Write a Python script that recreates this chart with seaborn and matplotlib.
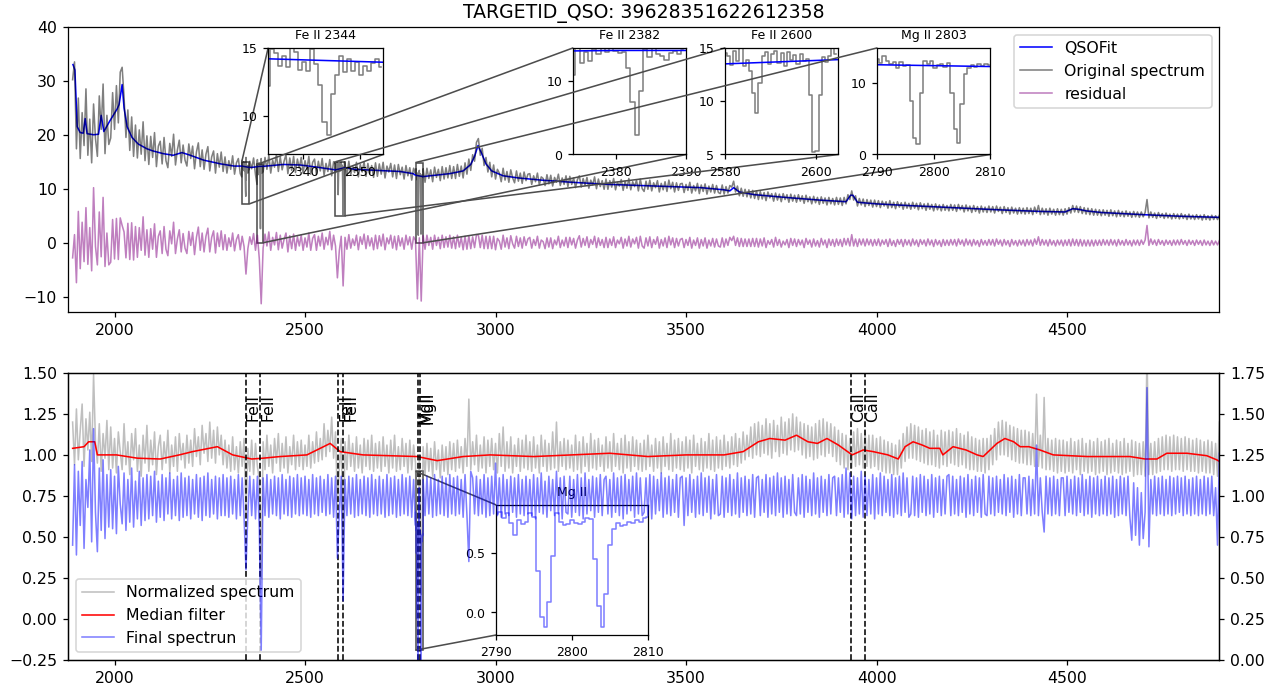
import numpy as np
import pandas as pd
import matplotlib.pyplot as plt
import seaborn as sns
from mpl_toolkits.axes_grid1.inset_locator import mark_inset

targetid = '39628351622612358'

# spectrum sampled every 5 A (one row = 100 A)
wave = np.arange(1890, 4901, 5)

orig_flux = [
    30.2, 33.5, 17.4, 26.8, 15.6, 24.1, 18.0, 28.5, 16.2, 22.9, 14.8, 25.7, 19.3, 16.0, 27.2, 21.0, 29.4, 16.5, 23.6, 18.2,
    19.4, 27.8, 21.0, 29.1, 22.2, 31.6, 32.5, 27.0, 19.5, 24.6, 17.1, 23.3, 16.0, 21.8, 15.7, 20.9, 16.4, 22.4, 15.2, 19.8,
    14.5, 19.7, 15.8, 20.4, 14.1, 17.9, 18.8, 14.6, 19.5, 15.2, 13.9, 18.4, 16.0, 20.1, 14.4, 17.2, 19.0, 14.8, 18.1, 15.3,
    14.2, 18.3, 15.6, 17.9, 13.7, 16.8, 18.5, 14.1, 17.2, 13.6, 16.4, 17.8, 13.3, 15.9, 17.0, 12.9, 16.5, 14.0, 16.8, 13.2,
    15.9, 12.9, 15.2, 13.6, 16.1, 12.7, 14.8, 15.6, 12.8, 15.3, 13.4, 15.8, 12.9, 15.1, 13.7, 15.7, 12.6, 15.4, 13.2, 15.6,
    13.1, 15.8, 13.6, 16.2, 12.9, 15.3, 14.0, 16.4, 13.2, 15.9, 13.5, 15.1, 16.3, 12.8, 15.7, 13.4, 16.0, 13.0, 15.5, 13.8,
    15.8, 12.9, 15.2, 13.5, 16.0, 12.7, 14.9, 15.5, 12.6, 15.1, 13.3, 15.6, 12.5, 14.7, 13.2, 15.4, 12.4, 15.0, 13.0, 14.8,
    13.2, 14.9, 12.8, 14.6, 12.4, 15.1, 12.6, 14.2, 13.0, 14.9, 12.2, 14.5, 13.1, 15.0, 12.3, 14.7, 12.8, 14.3, 12.1, 14.8,
    12.3, 14.6, 12.7, 14.9, 12.0, 14.2, 13.1, 14.7, 12.2, 14.4, 11.9, 14.5, 12.6, 14.0, 11.8, 14.3, 12.4, 13.9, 11.6, 13.8,
    12.9, 11.6, 13.4, 11.5, 13.7, 11.2, 13.8, 11.9, 13.5, 11.3, 14.0, 12.1, 13.6, 11.5, 14.1, 11.8, 13.9, 12.0, 14.3, 11.9,
    14.1, 11.9, 14.5, 12.3, 14.2, 12.0, 14.8, 12.7, 15.5, 13.4, 16.3, 15.1, 18.6, 19.3, 16.2, 17.5, 14.3, 15.8, 13.1, 14.9,
    12.2, 14.4, 11.8, 13.6, 12.9, 11.3, 13.8, 11.6, 13.2, 11.2, 13.5, 12.0, 11.1, 13.3, 11.4, 12.9, 11.0, 13.1, 11.5, 12.7,
    12.8, 10.8, 12.4, 11.3, 12.9, 10.7, 12.2, 11.9, 10.6, 12.6, 10.9, 12.5, 10.5, 12.1, 11.2, 12.7, 10.6, 12.0, 10.8, 12.4,
    10.4, 12.3, 10.8, 12.0, 10.2, 11.7, 12.4, 10.3, 11.9, 10.6, 12.1, 10.1, 11.6, 10.7, 12.2, 10.0, 11.8, 10.4, 11.5, 9.9,
    11.8, 9.9, 11.5, 10.3, 11.9, 9.8, 11.2, 10.5, 11.7, 9.7, 11.4, 10.1, 11.9, 9.8, 11.3, 10.4, 11.6, 9.6, 11.8, 10.0,
    9.5, 11.4, 9.9, 11.6, 9.6, 11.1, 10.2, 11.5, 9.4, 11.0, 9.8, 11.3, 9.5, 11.6, 10.0, 11.2, 9.4, 11.1, 9.7, 10.9,
    11.0, 9.3, 10.8, 9.7, 11.2, 9.2, 10.6, 9.6, 11.0, 9.1, 10.7, 9.5, 10.9, 9.0, 10.5, 9.4, 10.8, 9.2, 10.6, 9.3,
    9.1, 10.7, 9.0, 10.4, 9.2, 10.6, 10.3, 11.4, 9.4, 10.5, 8.7, 10.1, 8.6, 9.9, 8.5, 9.8, 8.3, 9.7, 8.2, 9.6,
    8.0, 9.5, 8.1, 9.3, 7.8, 9.4, 8.3, 9.1, 7.7, 9.2, 7.9, 9.0, 7.6, 9.1, 8.0, 8.9, 7.5, 9.0, 7.7, 8.8,
    7.5, 8.9, 7.7, 8.7, 7.3, 8.8, 7.6, 8.5, 7.2, 8.6, 7.4, 8.4, 7.1, 8.5, 7.3, 8.3, 7.0, 8.4, 7.2, 8.2,
    7.0, 8.4, 7.1, 8.3, 6.9, 8.4, 7.2, 8.9, 8.0, 9.6, 7.9, 8.7, 6.8, 8.2, 7.0, 8.1, 6.7, 8.0, 6.9, 7.9,
    6.6, 7.9, 6.7, 7.8, 6.5, 7.7, 6.8, 7.6, 6.4, 7.8, 6.5, 7.5, 6.3, 7.6, 6.6, 7.4, 6.2, 7.5, 6.4, 7.3,
    6.2, 7.5, 6.4, 7.3, 6.1, 7.4, 6.3, 7.2, 6.0, 7.3, 6.2, 7.1, 5.9, 7.2, 6.1, 7.0, 5.9, 7.1, 6.0, 6.9,
    5.9, 7.1, 6.0, 7.0, 5.8, 7.1, 6.1, 6.9, 5.7, 7.0, 5.9, 6.8, 5.6, 6.9, 5.8, 6.7, 5.5, 6.8, 5.7, 6.6,
    5.6, 6.8, 5.7, 6.7, 5.5, 6.8, 5.8, 6.6, 5.4, 6.7, 5.6, 6.5, 5.3, 6.6, 5.5, 6.4, 5.3, 6.5, 5.4, 6.4,
    5.3, 6.5, 5.4, 6.4, 5.2, 6.6, 5.5, 6.9, 5.2, 6.4, 5.3, 6.3, 5.1, 6.4, 5.3, 6.2, 5.1, 6.3, 5.2, 6.2,
    5.1, 6.3, 5.3, 6.5, 5.5, 6.9, 5.7, 6.8, 5.6, 6.7, 5.4, 6.5, 5.3, 6.4, 5.2, 6.3, 5.1, 6.2, 5.1, 6.1,
    5.0, 6.1, 5.1, 6.0, 4.9, 6.1, 5.0, 5.9, 4.8, 6.0, 4.9, 5.8, 4.8, 5.9, 4.9, 5.7, 4.7, 5.8, 4.8, 5.7,
    4.7, 5.7, 4.8, 5.6, 8.0, 4.6, 5.7, 4.7, 5.5, 4.5, 5.6, 4.7, 5.4, 4.5, 5.5, 4.6, 5.3, 4.4, 5.4, 4.5,
    5.3, 4.4, 5.4, 4.5, 5.2, 4.3, 5.3, 4.4, 5.1, 4.3, 5.2, 4.4, 5.1, 4.2, 5.2, 4.3, 5.0, 4.2, 5.1, 4.3,
    5.0, 4.3, 5.1,
]

resid_flux = [
    -2.8, 1.5, -7.4, 5.8, -4.8, 3.8, -3.5, 6.5, -4.0, 2.8, -5.2, 10.2, -0.7, -4.1, 5.7, -2.6, 8.4, -4.4, 1.8, -4.1,
    -3.6, 4.3, -3.0, 4.5, -3.1, 4.6, 3.2, 2.0, -2.8, 3.6, -3.1, 3.7, -3.2, 3.0, -2.7, 2.8, -1.4, 4.8, -2.3, 2.4,
    -2.7, 2.6, -1.2, 3.5, -2.7, 1.2, 2.2, -2.0, 3.0, -1.2, -2.4, 2.2, -0.2, 3.8, -2.0, 0.7, 2.4, -1.7, 1.7, -1.0,
    -2.0, 2.1, -0.5, 1.9, -2.2, 1.0, 2.9, -1.4, 1.8, -1.7, 1.2, 2.7, -1.7, 1.0, 2.2, -1.9, 1.8, -0.7, 2.2, -1.3,
    1.5, -1.4, 0.9, -0.7, 1.8, -1.5, 0.6, 1.5, -1.3, 1.2, -0.7, -5.8, -1.1, 1.1, -0.3, 1.7, -1.4, 1.4, -3.0, -11.3,
    -1.0, 1.6, -0.6, 2.0, -1.4, 1.0, -0.4, 1.9, -1.3, 1.4, -1.0, 0.6, 1.8, -1.7, 1.3, -1.1, 1.6, -1.4, 1.1, -0.6,
    1.4, -1.4, 0.9, -0.8, 1.8, -1.4, 0.8, 1.5, -1.4, 1.2, -0.6, 1.8, -1.2, 1.0, -0.4, 2.1, -1.3, 1.4, -0.6, -6.5,
    -1.5, 1.2, -8.0, 1.0, -1.2, 1.5, -1.0, 0.7, -0.5, 1.4, -1.3, 1.1, -0.3, 1.6, -1.1, 1.3, -0.6, 0.9, -1.3, 1.4,
    -1.1, 1.3, -0.6, 1.6, -1.3, 0.9, -0.2, 1.4, -1.0, 1.2, -1.3, 1.3, -0.6, 0.9, -1.2, 1.4, -0.4, 1.1, -1.2, 1.1,
    0.4, -10.4, 0.9, -10.8, 1.3, -1.2, 1.4, -0.5, 1.0, -1.2, 1.4, -0.5, 1.0, -1.1, 1.4, -0.9, 1.1, -0.8, 1.4, -1.0,
    1.1, -1.1, 1.4, -0.8, 1.0, -1.3, 1.2, -1.2, 1.3, -1.1, 1.1, -0.9, 1.5, 1.4, -0.9, 1.4, -1.1, 1.2, -1.1, 1.2,
    -1.1, 1.2, -1.3, 0.8, 0.3, -1.2, 1.4, -0.8, 0.9, -1.1, 1.3, -0.2, -1.0, 1.2, -0.7, 0.9, -1.0, 1.1, -0.5, 0.7,
    1.0, -1.0, 0.6, -0.5, 1.2, -1.0, 0.5, 0.2, -1.1, 0.9, -0.8, 0.9, -1.1, 0.5, -0.4, 1.2, -0.9, 0.5, -0.6, 1.0,
    -0.9, 1.0, -0.4, 0.8, -1.0, 0.5, 1.3, -0.8, 0.8, -0.5, 1.1, -0.9, 0.6, -0.3, 1.2, -0.9, 0.9, -0.5, 0.6, -0.9,
    1.0, -0.9, 0.7, -0.5, 1.1, -0.9, 0.5, -0.2, 1.0, -1.0, 0.7, -0.6, 1.2, -0.8, 0.7, -0.2, 1.0, -1.0, 1.2, -0.6,
    -1.0, 0.9, -0.6, 1.1, -0.9, 0.6, -0.3, 1.1, -1.0, 0.6, -0.6, 0.9, -0.9, 1.2, -0.4, 0.9, -0.9, 0.8, -0.6, 0.6,
    0.8, -0.9, 0.6, -0.5, 1.0, -1.0, 0.5, -0.5, 0.9, -1.0, 0.6, -0.6, 0.9, -1.0, 0.5, -0.6, 0.8, -0.8, 0.7, -0.6,
    -0.8, 0.9, -0.8, 0.7, -0.5, 1.0, 0.4, 1.2, -0.5, 0.9, -0.7, 0.8, -0.7, 0.7, -0.7, 0.7, -0.7, 0.8, -0.7, 0.8,
    -0.8, 0.7, -0.6, 0.9, -0.9, 0.4, -0.3, 0.6, -0.8, 1.0, -0.5, 0.6, -0.8, 0.3, -0.4, 0.6, -0.9, 0.8, -0.5, 0.7,
    -0.7, 0.6, -0.4, 0.5, -0.9, 0.8, -0.3, 0.5, -0.8, 0.7, -0.6, 0.4, -0.8, 0.8, -0.4, 0.5, -0.9, 0.7, -0.5, 0.6,
    -0.7, 0.7, -0.5, 0.6, -0.7, 0.8, -0.4, 0.8, -0.6, 1.5, -0.6, 0.7, -0.7, 0.7, -0.4, 0.7, -0.6, 0.7, -0.4, 0.6,
    -0.6, 0.6, -0.5, 0.7, -0.6, 0.5, -0.3, 0.6, -0.7, 0.7, -0.5, 0.4, -0.7, 0.6, -0.3, 0.6, -0.7, 0.6, -0.4, 0.5,
    -0.6, 0.7, -0.4, 0.5, -0.7, 0.6, -0.3, 0.5, -0.6, 0.7, -0.4, 0.5, -0.7, 0.6, -0.4, 0.4, -0.7, 0.6, -0.5, 0.5,
    -0.5, 0.6, -0.4, 0.6, -0.6, 0.7, -0.3, 0.5, -0.6, 0.7, -0.4, 0.5, -0.6, 0.6, -0.4, 0.4, -0.7, 0.6, -0.4, 0.4,
    -0.5, 0.6, -0.4, 0.6, -0.6, 0.7, -0.3, 0.5, -0.6, 0.6, -0.4, 0.4, -0.7, 0.6, -0.4, 0.4, -0.6, 0.5, -0.4, 0.5,
    -0.6, 0.6, -0.4, 0.5, -0.6, 0.7, -0.3, 1.1, -0.5, 0.6, -0.4, 0.5, -0.6, 0.6, -0.4, 0.4, -0.6, 0.5, -0.4, 0.5,
    -0.6, 0.5, -0.5, 0.6, -0.6, 0.7, -0.5, 0.6, -0.6, 0.6, -0.6, 0.5, -0.6, 0.5, -0.6, 0.5, -0.6, 0.5, -0.5, 0.5,
    -0.5, 0.6, -0.4, 0.5, -0.5, 0.6, -0.4, 0.5, -0.6, 0.6, -0.4, 0.4, -0.5, 0.6, -0.4, 0.4, -0.6, 0.5, -0.4, 0.5,
    -0.5, 0.5, -0.3, 0.5, 3.2, -0.5, 0.7, -0.3, 0.5, -0.5, 0.6, -0.3, 0.4, -0.5, 0.5, -0.3, 0.4, -0.5, 0.5, -0.4,
    0.5, -0.4, 0.6, -0.3, 0.4, -0.5, 0.5, -0.3, 0.4, -0.5, 0.5, -0.3, 0.4, -0.5, 0.5, -0.4, 0.3, -0.5, 0.4, -0.4,
    0.3, -0.4, 0.4,
]

norm_flux = [
    1.20, 0.94, 1.28, 0.97, 1.15, 1.31, 0.93, 1.22, 1.03, 1.26, 0.96, 1.49, 1.08, 0.95, 1.19, 0.90, 1.13, 0.98, 1.21, 0.91,
    1.17, 0.92, 1.10, 0.89, 1.14, 1.02, 0.91, 1.19, 0.94, 1.08, 0.88, 1.13, 0.97, 1.16, 0.90, 1.06, 0.87, 1.12, 0.95, 1.18,
    0.90, 1.09, 0.94, 1.14, 0.88, 1.05, 1.12, 0.91, 1.08, 0.95, 1.15, 0.89, 1.06, 0.93, 1.11, 0.90, 1.13, 0.97, 1.07, 0.92,
    1.12, 0.95, 1.09, 0.93, 1.16, 0.99, 1.11, 0.94, 1.18, 1.01, 1.13, 0.96, 1.20, 0.98, 1.15, 0.95, 1.17, 1.00, 1.12, 0.94,
    1.09, 0.92, 1.06, 0.90, 1.11, 0.91, 1.05, 0.89, 1.08, 0.93, 1.10, 0.62, 1.04, 0.90, 1.09, 0.88, 1.07, 0.93, 0.85, 0.22,
    1.08, 0.91, 1.12, 0.93, 1.06, 0.89, 1.10, 0.95, 1.13, 0.90, 1.07, 0.92, 1.11, 0.89, 1.05, 0.94, 1.12, 0.91, 1.08, 0.93,
    1.09, 0.91, 1.06, 0.93, 1.12, 0.92, 1.08, 0.95, 1.14, 0.96, 1.10, 0.97, 1.19, 0.99, 1.15, 1.02, 1.23, 0.98, 1.14, 0.70,
    0.92, 1.10, 0.42, 1.08, 0.91, 1.12, 0.93, 1.07, 0.90, 1.11, 0.92, 1.06, 0.89, 1.10, 0.93, 1.09, 0.91, 1.12, 0.90, 1.07,
    0.92, 1.08, 0.90, 1.11, 0.93, 1.06, 0.89, 1.09, 0.92, 1.12, 0.90, 1.05, 0.91, 1.10, 0.93, 1.07, 0.89, 1.09, 0.91, 1.06,
    0.95, 0.18, 1.00, 0.15, 1.05, 0.88, 1.07, 0.90, 1.04, 0.87, 1.08, 0.91, 1.03, 0.86, 1.06, 0.90, 1.05, 0.88, 1.08, 0.91,
    1.07, 0.90, 1.09, 0.92, 1.05, 0.89, 1.10, 0.93, 1.34, 0.91, 1.08, 0.94, 1.12, 0.90, 1.06, 0.92, 1.11, 0.89, 1.09, 0.93,
    1.10, 0.91, 1.07, 0.89, 1.13, 0.93, 1.17, 0.90, 1.08, 0.92, 1.11, 0.89, 1.06, 0.93, 1.10, 0.90, 1.09, 0.92, 1.12, 0.91,
    1.08, 0.90, 1.11, 0.92, 1.06, 0.89, 1.12, 0.93, 1.09, 0.90, 1.07, 0.91, 1.14, 0.92, 1.20, 0.90, 1.08, 0.93, 1.10, 0.91,
    1.09, 0.92, 1.06, 0.90, 1.12, 0.91, 1.08, 0.89, 1.11, 0.93, 1.07, 0.90, 1.13, 0.92, 1.09, 0.91, 1.10, 0.93, 1.06, 0.90,
    1.11, 0.92, 1.08, 0.90, 1.13, 0.93, 1.07, 0.91, 1.10, 0.89, 1.12, 0.92, 1.08, 0.90, 1.11, 0.93, 1.09, 0.91, 1.07, 0.90,
    1.09, 0.91, 1.12, 0.93, 1.06, 0.90, 1.10, 0.92, 1.08, 0.89, 1.11, 0.93, 1.07, 0.91, 1.13, 0.90, 1.09, 0.92, 1.10, 0.91,
    1.08, 0.90, 1.11, 0.92, 1.09, 0.89, 1.12, 0.93, 1.07, 0.91, 1.10, 0.90, 1.08, 0.92, 1.13, 0.91, 1.09, 0.90, 1.11, 0.92,
    1.09, 0.91, 1.12, 0.93, 1.08, 0.92, 1.11, 0.94, 1.13, 0.93, 1.10, 0.95, 1.14, 0.97, 1.12, 0.99, 1.17, 0.98, 1.19, 1.00,
    1.20, 0.99, 1.18, 1.01, 1.22, 1.00, 1.19, 0.98, 1.21, 1.02, 1.18, 0.99, 1.23, 1.01, 1.20, 1.00, 1.22, 1.03, 1.25, 1.02,
    1.23, 1.03, 1.20, 1.00, 1.19, 0.98, 1.18, 0.99, 1.17, 0.97, 1.19, 0.98, 1.21, 1.00, 1.22, 0.99, 1.20, 1.01, 1.19, 0.99,
    1.17, 0.96, 1.15, 0.94, 1.13, 0.92, 1.12, 0.91, 1.10, 0.92, 1.14, 0.93, 1.16, 0.94, 1.13, 0.92, 1.14, 0.93, 1.12, 0.92,
    1.12, 0.93, 1.10, 0.91, 1.11, 0.90, 1.09, 0.89, 1.08, 0.89, 1.07, 0.88, 1.06, 0.88, 1.09, 0.92, 1.13, 0.96, 1.17, 0.98,
    1.19, 0.98, 1.18, 0.97, 1.17, 0.96, 1.15, 0.95, 1.16, 0.94, 1.14, 0.94, 1.15, 0.93, 1.12, 0.92, 1.15, 0.94, 1.14, 0.93,
    1.15, 0.95, 1.14, 0.94, 1.16, 0.93, 1.13, 0.94, 1.12, 0.92, 1.14, 0.91, 1.11, 0.91, 1.10, 0.90, 1.09, 0.90, 1.10, 0.89,
    1.10, 0.91, 1.12, 0.94, 1.16, 0.97, 1.20, 1.00, 1.21, 1.00, 1.20, 0.99, 1.18, 0.97, 1.17, 0.96, 1.16, 0.95, 1.15, 0.95,
    1.15, 0.94, 1.14, 0.94, 1.13, 0.93, 1.37, 0.93, 1.12, 0.92, 1.35, 0.91, 1.10, 0.91, 1.09, 0.90, 1.10, 0.89, 1.09, 0.90,
    1.09, 0.89, 1.08, 0.90, 1.10, 0.89, 1.08, 0.91, 1.09, 0.88, 1.10, 0.90, 1.07, 0.89, 1.09, 0.90, 1.08, 0.88, 1.10, 0.89,
    1.08, 0.90, 1.09, 0.88, 1.10, 0.89, 1.07, 0.90, 1.09, 0.89, 1.08, 0.88, 1.10, 0.89, 1.07, 0.90, 1.09, 0.87, 1.08, 0.88,
    1.07, 0.88, 1.08, 0.87, 1.62, 0.88, 1.07, 0.88, 1.08, 0.89, 1.10, 0.90, 1.11, 0.91, 1.12, 0.91, 1.11, 0.90, 1.12, 0.91,
    1.11, 0.91, 1.10, 0.90, 1.11, 0.91, 1.10, 0.90, 1.09, 0.90, 1.10, 0.89, 1.09, 0.90, 1.08, 0.89, 1.09, 0.89, 1.08, 0.88,
    1.07, 0.87, 1.20,
]

final_flux = [
    0.70, 1.19, 0.64, 1.15, 0.82, 1.21, 0.68, 1.10, 0.93, 1.28, 0.72, 1.41, 0.90, 0.66, 1.17, 0.79, 1.22, 0.74, 1.13, 0.81,
    1.16, 0.80, 1.12, 0.77, 1.18, 0.95, 0.83, 1.14, 0.79, 1.10, 0.84, 1.17, 0.81, 1.09, 0.86, 1.15, 0.82, 1.11, 0.85, 1.13,
    0.86, 1.12, 0.88, 1.15, 0.84, 1.09, 0.87, 1.13, 0.85, 1.11, 0.89, 1.14, 0.86, 1.10, 0.88, 1.12, 0.85, 1.14, 0.87, 1.11,
    0.88, 1.12, 0.86, 1.10, 0.89, 1.13, 0.87, 1.11, 0.85, 1.12, 0.88, 1.14, 0.87, 1.10, 0.89, 1.12, 0.86, 1.11, 0.88, 1.13,
    0.88, 1.11, 0.87, 1.12, 0.89, 1.10, 0.86, 1.13, 0.88, 1.11, 0.87, 0.55, 0.89, 1.12, 0.88, 1.10, 0.86, 1.12, 0.80, 0.06,
    1.11, 0.88, 1.13, 0.87, 1.10, 0.89, 1.12, 0.88, 1.11, 0.86, 1.13, 0.89, 1.10, 0.88, 1.12, 0.87, 1.11, 0.89, 1.13, 0.88,
    1.11, 0.89, 1.12, 0.88, 1.10, 0.87, 1.13, 0.89, 1.11, 0.88, 1.12, 0.90, 1.10, 0.88, 1.13, 0.89, 1.11, 0.87, 1.12, 0.62,
    0.90, 1.12, 0.36, 1.10, 0.88, 1.12, 0.89, 1.11, 0.87, 1.13, 0.88, 1.10, 0.89, 1.12, 0.88, 1.11, 0.87, 1.13, 0.89, 1.10,
    0.88, 1.12, 0.89, 1.10, 0.87, 1.13, 0.88, 1.11, 0.89, 1.12, 0.87, 1.10, 0.88, 1.13, 0.89, 1.11, 0.88, 1.12, 0.87, 1.10,
    0.90, 0.25, 1.05, 0.20, 1.10, 0.88, 1.12, 0.89, 1.11, 0.87, 1.13, 0.88, 1.10, 0.89, 1.12, 0.88, 1.11, 0.87, 1.13, 0.89,
    1.11, 0.88, 1.12, 0.89, 1.10, 0.87, 1.13, 0.88, 0.60, 1.15, 1.11, 0.89, 1.12, 0.88, 1.10, 0.89, 1.13, 0.87, 1.11, 0.88,
    1.12, 0.89, 1.20, 0.88, 1.11, 0.87, 1.13, 0.89, 1.10, 0.88, 1.12, 0.90, 1.11, 0.87, 1.13, 0.89, 1.10, 0.88, 1.12, 0.89,
    1.10, 0.88, 1.13, 0.86, 1.11, 0.90, 1.14, 0.89, 1.09, 0.87, 1.12, 0.91, 1.10, 0.88, 1.15, 0.89, 1.11, 0.86, 1.12, 0.90,
    0.89, 1.12, 0.87, 1.10, 0.90, 1.13, 0.88, 1.11, 0.86, 1.14, 0.89, 1.10, 0.91, 1.12, 0.87, 1.11, 0.90, 1.13, 0.88, 1.10,
    1.12, 0.89, 1.10, 0.87, 1.14, 0.90, 1.11, 0.88, 1.12, 0.86, 1.13, 0.89, 1.10, 0.91, 1.12, 0.87, 1.14, 0.89, 1.11, 0.88,
    0.90, 1.11, 0.88, 1.13, 0.86, 1.12, 0.89, 1.10, 0.91, 1.14, 0.87, 1.11, 0.89, 1.12, 0.88, 1.10, 0.90, 1.13, 0.87, 1.11,
    1.12, 0.82, 1.11, 0.88, 1.13, 0.90, 1.10, 0.87, 1.12, 0.89, 1.14, 0.88, 1.11, 0.90, 1.12, 0.86, 1.10, 0.89, 1.13, 0.88,
    0.89, 1.12, 0.87, 1.11, 0.90, 1.13, 0.88, 1.10, 0.89, 1.14, 0.87, 1.11, 0.90, 1.12, 0.88, 1.10, 0.89, 1.13, 0.87, 1.11,
    1.12, 0.88, 1.10, 0.90, 1.13, 0.87, 1.11, 0.89, 1.12, 0.88, 1.14, 0.90, 1.11, 0.87, 1.12, 0.89, 1.10, 0.88, 1.13, 0.90,
    0.88, 1.11, 0.89, 1.13, 0.87, 1.12, 0.90, 1.10, 0.88, 1.14, 0.89, 1.11, 0.87, 1.12, 0.90, 1.10, 0.88, 1.13, 0.89, 1.11,
    1.12, 0.88, 1.11, 0.90, 1.13, 0.87, 1.17, 0.89, 1.14, 0.86, 1.12, 0.88, 1.11, 0.89, 1.15, 0.87, 1.12, 0.88, 1.10, 0.89,
    1.13, 0.86, 1.11, 0.89, 1.14, 0.88, 1.12, 0.90, 1.10, 0.88, 1.13, 0.87, 1.11, 0.89, 1.12, 0.88, 1.14, 0.90, 1.11, 0.87,
    0.89, 1.12, 0.88, 1.11, 0.87, 1.13, 0.90, 1.12, 0.88, 1.10, 0.89, 1.13, 0.87, 1.11, 0.90, 1.12, 0.88, 1.10, 0.89, 1.12,
    1.13, 0.88, 1.12, 0.89, 1.10, 0.88, 1.12, 0.90, 1.11, 0.87, 1.13, 0.89, 1.10, 0.88, 1.12, 0.90, 1.11, 0.87, 1.13, 0.89,
    0.88, 1.12, 0.89, 1.11, 0.88, 1.12, 0.90, 1.10, 0.89, 1.13, 0.88, 1.11, 0.90, 1.12, 0.87, 1.10, 0.89, 1.13, 0.88, 1.11,
    1.11, 0.89, 1.12, 0.88, 1.10, 0.89, 1.31, 0.88, 1.11, 0.90, 0.78, 1.12, 0.89, 1.11, 0.88, 1.12, 0.89, 1.10, 0.88, 1.11,
    1.11, 0.88, 1.12, 0.90, 1.10, 0.89, 1.12, 0.88, 1.11, 0.90, 1.13, 0.88, 1.10, 0.89, 1.12, 0.87, 1.11, 0.89, 1.12, 0.88,
    1.10, 0.89, 1.12, 0.88, 1.11, 0.89, 1.12, 0.87, 1.10, 0.88, 1.12, 0.89, 1.11, 0.88, 1.12, 0.87, 0.73, 1.08, 0.76, 1.05,
    0.70, 1.02, 0.74, 0.90, 1.66, 0.69, 1.10, 0.89, 1.12, 0.88, 1.11, 0.89, 1.12, 0.88, 1.10, 0.89, 1.12, 0.88, 1.11, 0.89,
    1.12, 0.90, 1.11, 0.88, 1.12, 0.89, 1.10, 0.88, 1.11, 0.89, 1.12, 0.88, 1.10, 0.89, 1.12, 0.88, 1.11, 0.89, 1.12, 0.88,
    1.05, 0.70, 1.26,
]

fit_wave = [1891, 1896, 1902, 1910, 1918, 1923, 1928, 1945, 1958, 1965,
            1972, 1988, 2007, 2012, 2020, 2025, 2033, 2046, 2062, 2085,
            2101, 2128, 2154, 2177, 2199, 2234, 2279, 2314, 2334, 2354,
            2366, 2380, 2390, 2443, 2487, 2532, 2560, 2580, 2605, 2630,
            2689, 2749, 2784, 2790, 2810, 2828, 2880, 2915, 2935, 2945,
            2954, 2962, 2975, 2990, 3020, 3060, 3120, 3200, 3300, 3380,
            3460, 3540, 3600, 3615, 3625, 3640, 3680, 3760, 3850, 3920,
            3932, 3938, 3950, 4000, 4080, 4200, 4320, 4430, 4495, 4515,
            4530, 4550, 4590, 4700, 4800, 4900]
fit_flux = [33.0, 32.0, 21.5, 20.4, 20.3, 23.0, 20.2, 20.0, 20.1, 23.6,
            20.6, 22.6, 24.8, 25.6, 29.3, 25.0, 21.5, 19.5, 18.3, 17.4,
            17.0, 16.5, 16.2, 16.7, 16.2, 15.3, 14.6, 14.2, 14.2, 13.95,
            14.0, 14.15, 14.15, 14.5, 14.4, 14.0, 13.7, 13.5, 13.9, 13.6,
            13.4, 13.2, 12.8, 12.5, 12.25, 12.4, 12.8, 13.3, 14.5, 16.0,
            18.0, 16.8, 14.6, 13.3, 12.4, 12.0, 11.6, 11.2, 10.8, 10.6,
            10.4, 10.2, 9.8, 9.6, 10.2, 9.4, 8.9, 8.4, 7.9, 7.6,
            8.8, 8.8, 7.5, 7.2, 6.9, 6.5, 6.1, 5.8, 5.7, 6.3,
            6.2, 5.9, 5.6, 5.2, 4.9, 4.7]

median_wave = [1890, 1920, 1932, 1948, 1955, 2005, 2060, 2120, 2170, 2205,
               2270, 2310, 2360, 2390, 2435, 2505, 2566, 2592, 2652, 2794,
               2847, 2915, 2986, 3100, 3200, 3300, 3400, 3500, 3600, 3650,
               3690, 3720, 3760, 3790, 3820, 3845, 3870, 3900, 3936, 3965,
               3991, 4030, 4057, 4075, 4096, 4120, 4140, 4166, 4174, 4201,
               4235, 4264, 4280, 4316, 4337, 4360, 4377, 4400, 4429, 4464,
               4553, 4620, 4665, 4705, 4736, 4762, 4815, 4867, 4893, 4900]
median_flux = [1.04, 1.05, 1.08, 1.08, 1.00, 1.00, 0.98, 0.975, 1.00, 1.02,
               1.05, 1.00, 0.975, 0.98, 0.99, 1.00, 1.07, 1.02, 1.00, 0.99,
               0.965, 0.99, 1.00, 0.99, 1.0, 1.01, 0.99, 1.0, 1.0, 1.02,
               1.08, 1.10, 1.09, 1.12, 1.08, 1.07, 1.10, 1.06, 1.00, 1.03,
               1.02, 1.00, 0.975, 1.05, 1.08, 1.06, 1.04, 1.04, 1.00, 1.05,
               1.03, 1.00, 0.99, 1.07, 1.10, 1.08, 1.05, 1.05, 1.03, 1.00,
               0.99, 0.99, 0.99, 0.975, 0.975, 1.01, 1.01, 0.995, 0.97, 0.96]

# pixel level cut-outs around the absorbers
fe2344_flux = [12.2, 14.9, 14.6, 13.7, 14.4, 13.6, 15.0, 14.7, 13.4, 14.0,
               13.3, 14.9, 13.8, 12.3, 9.6, 8.6, 11.6, 13.0, 14.4, 13.2,
               14.2, 13.3, 14.0, 13.0, 13.7, 13.3, 13.9, 14.2, 13.6]
fe2382_flux = [10.8, 14.9, 12.5, 13.9, 12.7, 14.3, 13.6, 14.6, 14.0, 14.8,
               14.1, 13.8, 13.9, 11.8, 7.2, 2.6, 8.6, 14.3, 13.2, 14.6,
               13.7, 13.4, 12.9, 13.8, 14.1, 13.6, 14.2]
fe2600_flux = [14.5, 14.2, 13.4, 14.7, 13.8, 15.0, 13.3, 13.9, 12.8, 10.8,
               8.9, 11.7, 14.2, 14.6, 13.5, 14.4, 14.7, 13.6, 14.5, 13.3,
               14.6, 13.9, 14.3, 13.5, 14.4, 13.8, 14.0, 10.6, 5.2, 5.3,
               10.6, 14.1, 13.7, 14.2, 15.0, 14.4]
mg2803_flux = [13.3, 12.8, 13.7, 13.0, 12.6, 12.9, 12.1, 12.9, 12.3, 12.4,
               7.4, 2.3, 1.4, 8.6, 13.0, 12.6, 13.0, 12.1, 12.4, 12.6,
               12.2, 12.8, 8.6, 3.5, 1.6, 7.0, 11.2, 12.1, 12.5, 12.2,
               12.6, 12.3, 12.6, 12.4]
mg_final_flux = [0.82, 0.84, 0.79, 0.83, 0.75, 0.65, 0.77, 0.74, 0.76, 0.83,
                 0.80, 0.35, -0.04, -0.12, 0.09, 0.47, 0.83, 0.76, 0.73, 0.74,
                 0.77, 0.75, 0.74, 0.76, 0.79, 0.78, 0.45, 0.05, -0.12, 0.15,
                 0.56, 0.70, 0.75, 0.72, 0.73, 0.76, 0.75, 0.77, 0.76, 0.79,
                 0.80]

fe2344_wave = 2334.0 + 0.7 * np.arange(len(fe2344_flux))
fe2382_wave = 2374.0 + 0.6 * np.arange(len(fe2382_flux))
fe2600_wave = 2580.0 + 0.7 * np.arange(len(fe2600_flux))
mg2803_wave = 2790.0 + 0.6 * np.arange(len(mg2803_flux))
mg_final_wave = 2790.0 + 0.5 * np.arange(len(mg_final_flux))

line_waves = [2344, 2382, 2587, 2600, 2796, 2803, 3934, 3969]
line_names = ['FeII', 'FeII', 'FeII', 'FeII', 'MgII', 'MgII', 'CaII', 'CaII']

orig_df = pd.concat([
    pd.DataFrame({'wave': wave, 'flux': orig_flux}),
    pd.DataFrame({'wave': fe2344_wave, 'flux': fe2344_flux}),
    pd.DataFrame({'wave': fe2382_wave, 'flux': fe2382_flux}),
    pd.DataFrame({'wave': fe2600_wave, 'flux': fe2600_flux}),
    pd.DataFrame({'wave': mg2803_wave, 'flux': mg2803_flux}),
]).sort_values('wave')
fit_df = pd.DataFrame({'wave': fit_wave, 'flux': fit_flux})
resid_df = pd.DataFrame({'wave': wave, 'flux': resid_flux})
norm_df = pd.DataFrame({'wave': wave, 'flux': norm_flux})
median_df = pd.DataFrame({'wave': median_wave, 'flux': median_flux})
final_df = pd.concat([
    pd.DataFrame({'wave': wave, 'flux': final_flux}),
    pd.DataFrame({'wave': mg_final_wave, 'flux': mg_final_flux}),
]).sort_values('wave')

fig = plt.figure(figsize=(11.34, 6.135), dpi=113)
ax = fig.add_axes([0.0531, 0.5498, 0.8985, 0.4112])
ax_b = fig.add_axes([0.0531, 0.0476, 0.8985, 0.4142])

line_kw = dict(estimator=None, sort=False, lw=1)

# ---- top: continuum fit ----
sns.lineplot(data=fit_df, x='wave', y='flux', ax=ax, color='b', label='QSOFit', **line_kw)
sns.lineplot(data=orig_df, x='wave', y='flux', ax=ax, color='k', alpha=0.5,
             label='Original spectrum', **line_kw)
sns.lineplot(data=resid_df, x='wave', y='flux', ax=ax, color='purple', alpha=0.5,
             label='residual', **line_kw)
ax.set_xlim(1878, 4900)
ax.set_ylim(-12.8, 40)
ax.set(xlabel='', ylabel='')
ax.set_title(f'TARGETID_QSO: {targetid}')
ax.legend(loc='upper right')

zooms = [
    ('Fe II 2344', fe2344_wave, fe2344_flux, (2334, 2354), (7.2, 15), [2340, 2350], [10, 15], 0.1738, 0.0999),
    ('Fe II 2382', fe2382_wave, fe2382_flux, (2374, 2390), (0, 14.5), [2380, 2390], [0, 10], 0.4387, 0.0982),
    ('Fe II 2600', fe2600_wave, fe2600_flux, (2580, 2605), (5, 15), [2580, 2600], [5, 10, 15], 0.5708, 0.0982),
    ('Mg II 2803', mg2803_wave, mg2803_flux, (2790, 2810), (0, 14.85), [2790, 2800, 2810], [0, 10], 0.7029, 0.0982),
]
for title, zw, zf, xl, yl, xt, yt, x0, w in zooms:
    axins = ax.inset_axes([x0, 0.552, w, 0.374])
    sns.lineplot(x=zw, y=zf, ax=axins, color='k', alpha=0.5, drawstyle='steps-mid', **line_kw)
    sns.lineplot(data=fit_df, x='wave', y='flux', ax=axins, color='b', **line_kw)
    axins.set_xlim(*xl)
    axins.set_ylim(*yl)
    axins.set_xticks(xt)
    axins.set_yticks(yt)
    axins.tick_params(labelsize=8)
    axins.set(xlabel='', ylabel='')
    axins.set_title(title, fontsize=8)
    mark_inset(ax, axins, loc1=2, loc2=4, fc='none', ec='0.3')

# ---- bottom: normalisation ----
sns.lineplot(data=norm_df, x='wave', y='flux', ax=ax_b, color='grey', alpha=0.5,
             label='Normalized spectrum', **line_kw)
sns.lineplot(data=median_df, x='wave', y='flux', ax=ax_b, color='r',
             label='Median filter', **line_kw)
for lw_, name in zip(line_waves, line_names):
    ax_b.axvline(lw_, color='k', ls='--', lw=1)
    ax_b.text(lw_, 1.29, name, rotation=90, ha='left', va='center', fontsize=10)
ax_b.set_xlim(1878, 4900)
ax_b.set_ylim(-0.25, 1.5)
ax_b.set_yticks([-0.25, 0, 0.25, 0.5, 0.75, 1.0, 1.25, 1.5])
ax_b.set(xlabel='', ylabel='')

ax2 = ax_b.twinx()
sns.lineplot(data=final_df, x='wave', y='flux', ax=ax2, color='b', alpha=0.5,
             label='Final spectrun', **line_kw)
ax2.set_ylim(0, 1.75)
ax2.set_yticks([0, 0.25, 0.5, 0.75, 1.0, 1.25, 1.5, 1.75])
ax2.set(xlabel='', ylabel='')
if ax2.get_legend() is not None:
    ax2.get_legend().remove()

h1, l1 = ax_b.get_legend_handles_labels()
h2, l2 = ax2.get_legend_handles_labels()
ax_b.legend(h1 + h2, l1 + l2, loc='lower left')

axins_b = ax_b.inset_axes([0.3718, 0.0871, 0.1321, 0.453])
sns.lineplot(x=mg_final_wave, y=mg_final_flux, ax=axins_b, color='b', alpha=0.5,
             drawstyle='steps-mid', **line_kw)
axins_b.set_xlim(2790, 2810)
axins_b.set_ylim(-0.19, 0.9)
axins_b.set_xticks([2790, 2800, 2810])
axins_b.set_yticks([0.0, 0.5])
axins_b.tick_params(labelsize=8)
axins_b.set(xlabel='', ylabel='')
axins_b.set_title('Mg II', fontsize=8)
mark_inset(ax_b, axins_b, loc1=2, loc2=3, fc='none', ec='0.3')

fig.savefig('out.png', dpi=113)
